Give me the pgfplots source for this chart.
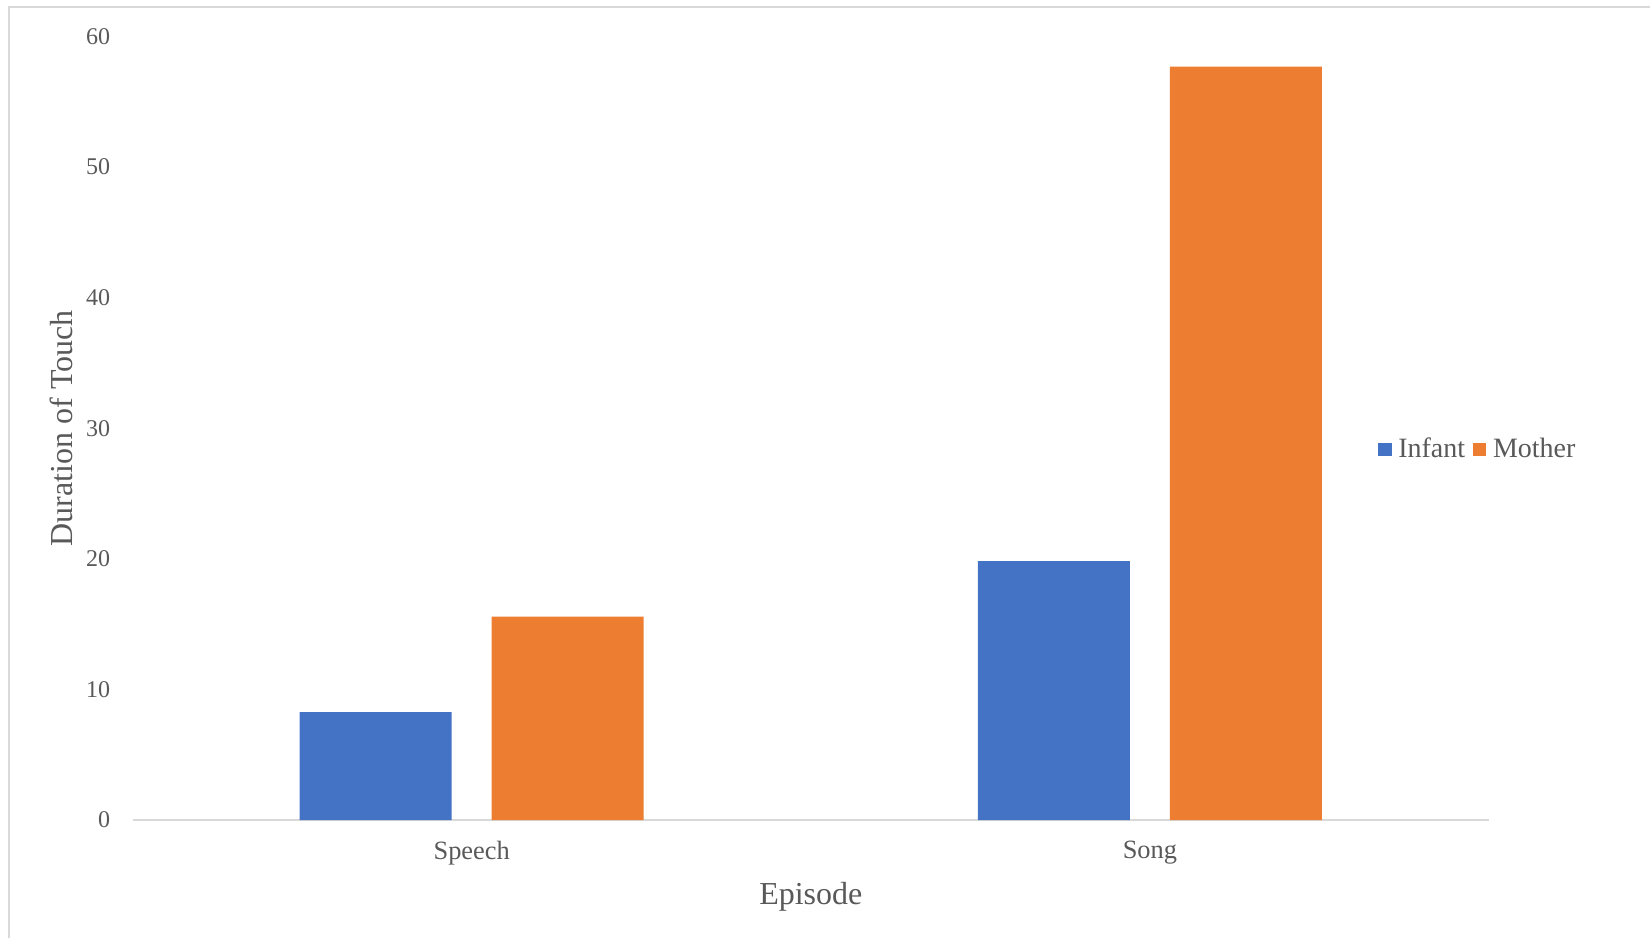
\documentclass[border=0pt]{standalone}
\usepackage{fontspec}
\setmainfont{Liberation Serif}
\usepackage{pgfplots}
\pgfplotsset{compat=1.18}
\definecolor{xlblue}{HTML}{4472C4}
\definecolor{xlorange}{HTML}{ED7D31}
\definecolor{txtgray}{HTML}{595959}
\definecolor{linegray}{HTML}{D9D9D9}
\begin{document}
\begin{tikzpicture}
\useasboundingbox (0pt,0pt) rectangle (825pt,469pt);
\draw[linegray, line width=1pt] (4.5pt,0pt) -- (4.5pt,465.5pt) -- (825pt,465.5pt);
\begin{axis}[
  at={(66.3pt,59pt)}, anchor=south west,
  scale only axis, width=678.2pt, height=391.75pt,
  xmin=-0.5, xmax=1.5, ymin=0, ymax=60,
  ybar=20pt, bar width=76pt,
  xtick={0,1}, xticklabels={Speech,Song},
  ytick={0,10,...,60},
  axis x line*=bottom, axis y line*=left,
  y axis line style={draw=none},
  x axis line style={draw=linegray, line width=1pt, -},
  major tick length=0pt,
  tick label style={text=txtgray, font=\fontsize{12}{14}\selectfont},
  /pgf/number format/assume math mode=true,
  yticklabel style={inner sep=0pt, xshift=-11pt},
  xticklabel style={inner sep=0pt, yshift=-10.5pt, font=\fontsize{13.2}{16}\selectfont},
  xlabel={Episode}, ylabel={Duration of Touch},
  label style={text=txtgray, font=\fontsize{16}{19}\selectfont},
  xlabel style={at={(rel axis cs:0.5,0)}, anchor=north, inner sep=0pt, yshift=-31pt},
  ylabel style={at={(rel axis cs:0,0.5)}, anchor=south, inner sep=0pt, outer ysep=30pt},
  legend columns=2,
  legend style={at={(rel axis cs:0.918,0.473)}, anchor=west, draw=none, fill=none,
    inner sep=0pt, font=\fontsize{14}{17}\selectfont, text=txtgray,
    /tikz/every odd column/.append style={column sep=1.3pt},
    /tikz/every even column/.append style={column sep=1.9pt}},
  legend image code/.code={\fill[#1] (0pt,-3.4pt) rectangle (6.75pt,3.4pt);},
]
\addplot[fill=xlblue, draw=none] coordinates {(0,8.27) (1,19.82)};
\addlegendentry{Infant}
\addplot[fill=xlorange, draw=none] coordinates {(0,15.58) (1,57.70)};
\addlegendentry{Mother}
\end{axis}
\end{tikzpicture}
\end{document}
